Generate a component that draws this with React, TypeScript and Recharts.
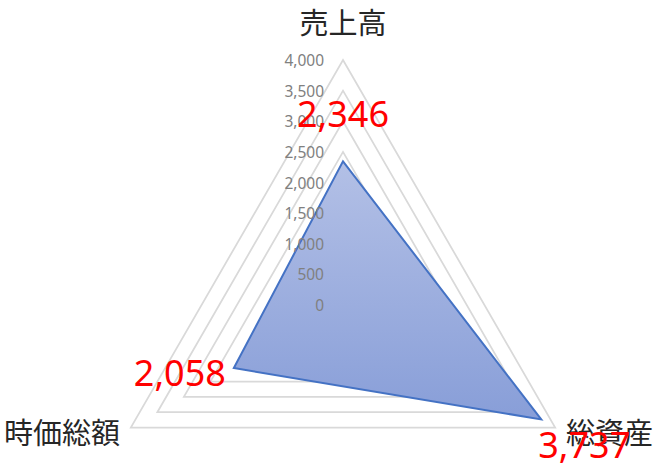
import { RadarChart, Radar, PolarGrid, PolarAngleAxis, PolarRadiusAxis } from 'recharts'

const categories = ['売上高', '総資産', '時価総額']
const values = [2346, 3737, 2058]
const radiusTicks = [0, 500, 1000, 1500, 2000, 2500, 3000, 3500, 4000]

const data = categories.map((name, i) => ({ name, value: values[i] }))

const fmt = (v: number) => v.toLocaleString('en-US')

// category label offsets relative to the tick point, by axis index
const catOffsets = [
  { dx: 0, dy: -30, anchor: 'middle' },
  { dx: 4, dy: 1, anchor: 'start' },
  { dx: -4, dy: 1, anchor: 'end' },
]

function AngleTick(props: any) {
  const { x, y, payload, index } = props
  const o = catOffsets[index] ?? { dx: 0, dy: 0, anchor: 'middle' }
  return (
    <text
      x={x + o.dx}
      y={y + o.dy}
      textAnchor={o.anchor}
      dominantBaseline="central"
      fill="#262626"
      fontSize={29}
    >
      {payload.value}
    </text>
  )
}

function RadiusTick(props: any) {
  const { x, y, payload } = props
  return (
    <text x={x - 19} y={y} textAnchor="end" dominantBaseline="central" fill="#808080" fontSize={15.5}>
      {fmt(payload.value)}
    </text>
  )
}

// value label offsets relative to the data point, by index
const valOffsets = [
  { dx: 0, dy: -48, anchor: 'middle' },
  { dx: 43, dy: 25, anchor: 'middle' },
  { dx: -8, dy: 4, anchor: 'end' },
]

function ValueLabel(props: any) {
  const { x, y, value, index } = props
  const o = valOffsets[index] ?? { dx: 0, dy: 0, anchor: 'middle' }
  return (
    <text
      x={x + o.dx}
      y={y + o.dy}
      textAnchor={o.anchor}
      dominantBaseline="central"
      fill="#ff0000"
      fontSize={36}
    >
      {fmt(value)}
    </text>
  )
}

export default function App() {
  return (
    <div style={{ position: 'absolute', left: 0, top: 0, width: 667, height: 466, background: '#fff', fontFamily: '"Noto Sans", "Noto Sans CJK JP", sans-serif' }}>
      <RadarChart width={667} height={466} data={data} cx={343} cy={305} outerRadius={245} margin={{ top: 0, right: 0, bottom: 0, left: 0 }}>
        <defs>
          <linearGradient id="radarFill" x1="0" y1="0" x2="0" y2="1">
            <stop offset="0%" stopColor="#b3c0e6" />
            <stop offset="100%" stopColor="#889ed8" />
          </linearGradient>
        </defs>
        <PolarGrid gridType="polygon" radialLines={false} stroke="#d9d9d9" strokeWidth={1.75} />
        <Radar
          dataKey="value"
          stroke="#4472c4"
          strokeWidth={2}
          fill="url(#radarFill)"
          fillOpacity={1}
          isAnimationActive={false}
        />
        <PolarAngleAxis dataKey="name" tick={<AngleTick />} tickLine={false} axisLine={false} />
        <PolarRadiusAxis
          angle={90}
          domain={[0, 4000]}
          ticks={radiusTicks as any}
          tick={<RadiusTick />}
          tickLine={false}
          axisLine={false}
        />
        <Radar
          dataKey="value"
          stroke="none"
          fill="none"
          label={<ValueLabel />}
          isAnimationActive={false}
        />
      </RadarChart>
    </div>
  )
}
